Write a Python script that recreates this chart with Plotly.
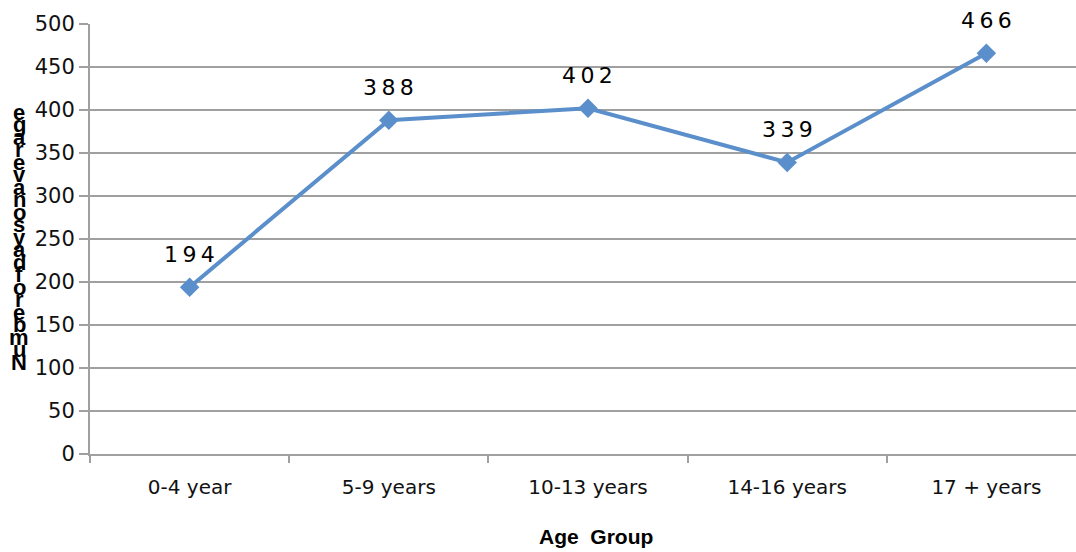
import plotly.graph_objects as go

categories = ["0-4 year", "5-9 years", "10-13 years", "14-16 years", "17 + years"]
values = [194, 388, 402, 339, 466]
y_title = "Number of days on average"
x_title = "Age  Group"

LINE = "#5b8fcb"
GRID = "#a0a0a0"
FONT = "DejaVu Sans"

fig = go.Figure()
fig.add_trace(go.Scatter(
    x=categories, y=values, mode="lines+markers",
    line=dict(color=LINE, width=4),
    marker=dict(symbol="diamond", size=15, color=LINE),
    hoverinfo="skip", showlegend=False,
))

annotations = []
for c, v in zip(categories, values):
    annotations.append(dict(
        x=c, y=v, xref="x", yref="y", text="\u2009".join(str(v)),
        showarrow=False, yshift=33, font=dict(family=FONT, size=22, color="#000"),
    ))

# stacked, reversed y-axis title letters
letters = [ch for ch in reversed(y_title) if ch != " "]
top_px, bot_px = 112, 362
plot_top, plot_h = 24, 430
n = len(letters)
for i, ch in enumerate(letters):
    py = top_px + (bot_px - top_px) * i / (n - 1)
    annotations.append(dict(
        x=-0.072, y=(plot_top + plot_h - py) / plot_h, xref="paper", yref="paper",
        text="<b>" + ch + "</b>", showarrow=False, xanchor="center", yanchor="middle",
        font=dict(family="Liberation Sans", size=22, color="#000"),
    ))

# x-axis title
annotations.append(dict(
    x=0.513, y=-0.193, xref="paper", yref="paper", xanchor="center", yanchor="middle",
    text="<b>" + x_title.replace("  ", "\u00a0 ") + "</b>", showarrow=False,
    font=dict(family="Liberation Sans", size=21, color="#000"),
))

fig.update_layout(
    width=1076, height=552,
    margin=dict(l=90, r=0, t=24, b=98),
    paper_bgcolor="white", plot_bgcolor="white",
    annotations=annotations,
    xaxis=dict(
        type="category", range=[-0.5, 4.45], tickson="boundaries",
        ticks="outside", ticklen=7, tickwidth=2, tickcolor=GRID,
        showline=True, linecolor=GRID, linewidth=2, showgrid=False,
        tickfont=dict(family=FONT, size=20, color="#111"), ticklabelstandoff=14,
    ),
    yaxis=dict(
        range=[0, 500], dtick=50, ticks="outside", ticklen=9, tickwidth=2, tickcolor=GRID,
        showline=True, linecolor=GRID, linewidth=2,
        showgrid=True, gridcolor=GRID, gridwidth=2, zeroline=False,
        tickfont=dict(family=FONT, size=21, color="#111"),
    ),
)

fig.write_html("out.html")
